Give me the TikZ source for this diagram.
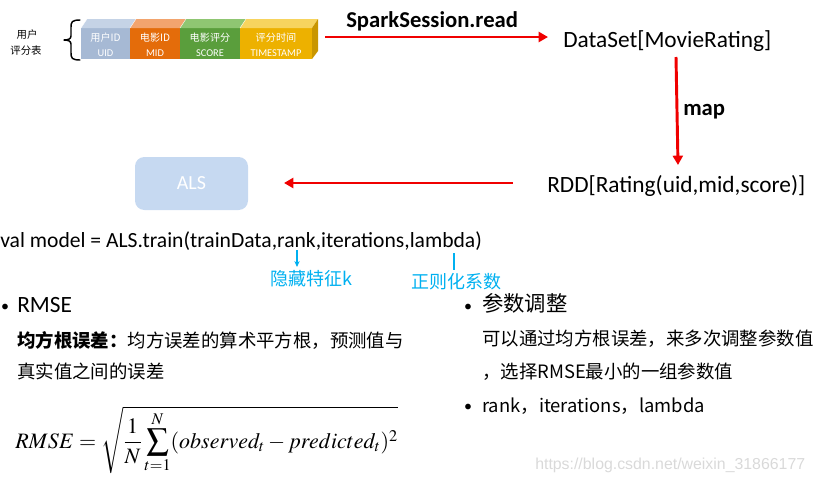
\documentclass[tikz,border=0pt]{standalone}
\usepackage{mathptmx}
\usepackage[no-math]{fontspec}
\setmainfont{Carlito}
\newfontfamily\cjk{Noto Sans CJK SC}
\newfontfamily\wmfont{Liberation Sans}
\usetikzlibrary{arrows.meta}
\definecolor{arrred}{HTML}{F00000}
\definecolor{cyanish}{HTML}{00B0F0}
\definecolor{uidf}{HTML}{A6B9D4}\definecolor{uidt}{HTML}{C5D3E6}
\definecolor{midf}{HTML}{E46C0A}\definecolor{midt}{HTML}{F2A46E}
\definecolor{scof}{HTML}{5A9E3C}\definecolor{scot}{HTML}{8FC672}
\definecolor{timf}{HTML}{EDB100}\definecolor{timt}{HTML}{F7D45E}\definecolor{tims}{HTML}{C99600}
\definecolor{alsf}{HTML}{C6D9F1}
\begin{document}
\begin{tikzpicture}[x=0.75pt,y=-0.75pt,
  redarr/.style={draw=arrred,line width=2.2pt,-{Triangle[length=7pt,width=7.5pt]}},
  cyanarr/.style={draw=cyanish,line width=1.1pt},
  celltxt/.style={text=white,inner sep=0pt,anchor=base},
  celltop/.style={font=\cjk\fontsize{7.6}{9}\selectfont},
  cellbot/.style={font=\fontsize{7.8}{9}\selectfont},
  bigtxt/.style={inner sep=0pt,anchor=base west,font=\fontsize{17.5}{20}\selectfont},
  boldtxt/.style={inner sep=0pt,anchor=base west,font=\bfseries\fontsize{17}{20}\selectfont},
  cjktxt/.style={inner sep=0pt,anchor=base west,font=\cjk\fontsize{13.8}{16}\selectfont},
  cjkhead/.style={inner sep=0pt,anchor=base west,font=\cjk\fontsize{16}{18}\selectfont},
  bul/.style={inner sep=0pt,anchor=base,font=\fontsize{12}{14}\selectfont},
  cyantxt/.style={inner sep=0pt,anchor=base west,text=cyanish,font=\cjk\fontsize{13.5}{16}\selectfont},
]
\useasboundingbox (0,0) rectangle (816,482);

% left label
\node[inner sep=0pt,anchor=base,font=\cjk\fontsize{7.8}{9}\selectfont] (lab1) at (27,38) {用户};
\node[inner sep=0pt,anchor=base,font=\cjk\fontsize{7.8}{9}\selectfont] (lab2) at (26,54) {评分表};

% brace
\draw[line width=1.1pt,line cap=round,line join=round]
  (80,20) .. controls (72,20) and (71,22) .. (71,27) -- (71,36)
  .. controls (71,39) and (68,40) .. (64,40)
  .. controls (68,40) and (71,41) .. (71,44) -- (71,53)
  .. controls (71,58) and (72,60) .. (80,60);

% 3D record box
\foreach \xa/\xb/\cf/\ct in {81/130/uidf/uidt,130/180/midf/midt,180/240/scof/scot,240/312/timf/timt}{
  \fill[\cf] (\xa,28) rectangle (\xb,59);
  \fill[\ct] (\xa,28) -- (\xa+6,19) -- (\xb+6,19) -- (\xb,28) -- cycle;
  \draw[white,line width=0.3pt] (\xa,28) -- (\xa+6,19);
}
\fill[tims] (312,28) -- (318,19) -- (318,51) -- (312,59) -- cycle;

\node[celltxt,celltop] (u1) at (105.5,41) {用户ID};
\node[celltxt,cellbot] (u2) at (105.5,56) {UID};
\node[celltxt,celltop] (m1) at (155,41) {电影ID};
\node[celltxt,cellbot] (m2) at (155,56) {MID};
\node[celltxt,celltop] (s1) at (210,41) {电影评分};
\node[celltxt,cellbot] (s2) at (210,56) {SCORE};
\node[celltxt,celltop] (t1) at (276,41) {评分时间};
\node[celltxt,cellbot] (t2) at (276,56) {TIMESTAMP};
\coordinate (boxend) at (325,37);

% flow
\node[boldtxt] (spark) at (346,27) {SparkSession.read};
\node[bigtxt] (ds) at (563,47) {DataSet[MovieRating]};
\coordinate (dsin) at (548,37);
\draw[redarr] (boxend) -- (dsin);
\coordinate (dsb) at (676,57);
\coordinate (rddt) at (678,165);
\node[boldtxt] (map) at (683,115) {map};
\node[bigtxt] (rdd) at (547,192) {RDD[Rating(uid,mid,score)]};
\draw[redarr] (dsb) -- (rddt);
\node[fill=alsf,rounded corners=7pt,minimum width=113pt*0.75,minimum height=53pt*0.75,
      text=white,font=\fontsize{15}{18}\selectfont] (als) at (191.5,183.5) {ALS};
\coordinate (rddw) at (513,183);
\coordinate (alsin) at (284,183);
\draw[redarr] (rddw) -- (alsin);

% train line
\node[inner sep=0pt,anchor=base west,font=\fontsize{16.2}{20}\selectfont] (train) at (0,247) {val model = ALS.train(trainData,rank,iterations,lambda)};
\coordinate (ka) at (297,250);
\coordinate (kb) at (297,267);
\draw[cyanarr,-{Stealth[length=4.5pt,width=4pt]}] (ka) -- (kb);
\node[cyantxt] (hid) at (270,285) {隐藏特征k};
\coordinate (la) at (454,253);
\coordinate (lb) at (454,270);
\draw[cyanarr] (la) -- (lb);
\node[cyantxt] (reg) at (411,288) {正则化系数};

% left bullet
\node[bul] (b1) at (5,311) {•};
\node[inner sep=0pt,anchor=base west,font=\fontsize{17.5}{20}\selectfont] (rmse) at (17,312) {RMSE};
\node[cjktxt] (l1) at (17,347) {\textbf{均方根误差：}均方误差的算术平方根，预测值与};
\node[cjktxt] (l2) at (17,378) {真实值之间的误差};
\node[inner sep=0pt,anchor=base west,font=\fontsize{16.5}{20}\selectfont] (eq) at (15,448)
  {$\displaystyle RMSE=\sqrt{\frac{1}{N}\sum_{t=1}^{N}(observed_t-predicted_t)^2}$};

% right bullets
\node[bul] (b2) at (468,311) {•};
\node[cjkhead] (r0) at (482,311) {参数调整};
\node[cjktxt] (r1) at (482,345) {可以通过均方根误差，来多次调整参数值};
\node[cjktxt] (r2) at (482,378) {，选择RMSE最小的一组参数值};
\node[bul] (b3) at (468,411) {•};
\node[cjktxt] (r3) at (482,412) {rank，iterations，lambda};

% watermark
\node[inner sep=0pt,anchor=base west,text=black!15,font=\wmfont\fontsize{11.9}{14}\selectfont] (wm) at (535,469) {https://blog.csdn.net/weixin\_31866177};
\end{tikzpicture}
\end{document}
